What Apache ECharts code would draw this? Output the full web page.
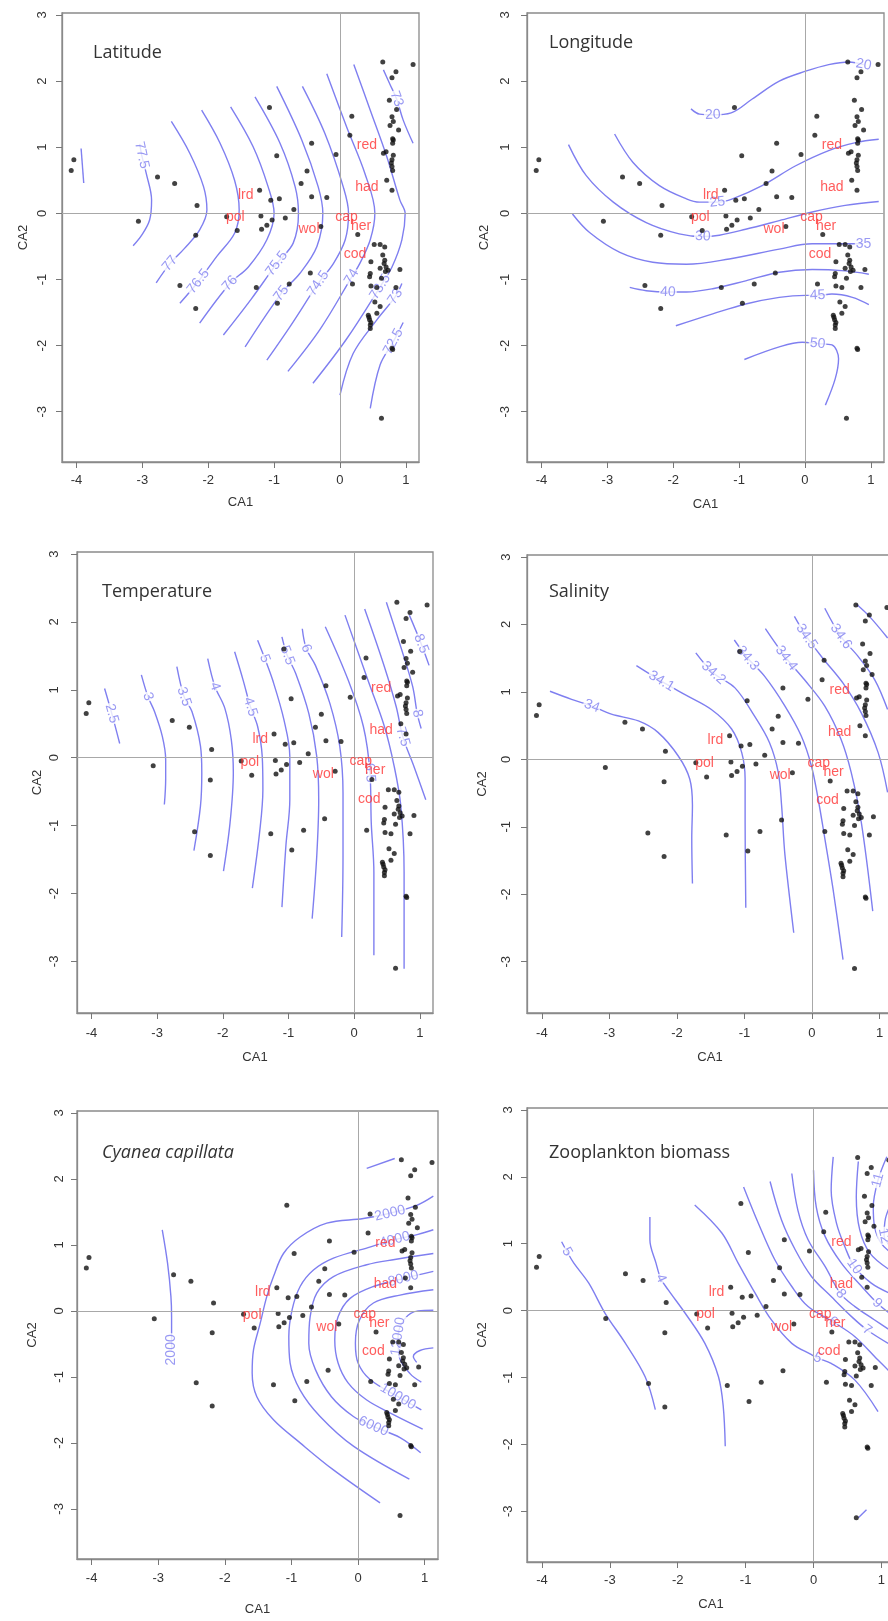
<!DOCTYPE html>
<html>
<head>
<meta charset="utf-8">
<script src="https://cdn.jsdelivr.net/npm/echarts@6/dist/echarts.min.js"></script>
<style>
  html, body { margin: 0; padding: 0; background: #fff; }
  #chart { width: 888px; height: 1621px; }
</style>
</head>
<body>
<div id="chart"></div>
<script>
// --- data: site scores (same in every panel) ---
var sites = [
  [-4.08,0.65],[-4.04,0.81],[-3.06,-0.12],[-2.77,0.55],[-2.51,0.45],[-2.17,0.12],[-2.19,-0.33],[-2.43,-1.09],
  [-2.19,-1.44],[-1.72,-0.05],[-1.56,-0.26],[-1.22,0.35],[-1.20,-0.04],[-1.19,-0.24],[-1.11,-0.18],[-1.05,0.20],
  [-1.03,-0.10],[-0.92,0.22],[-0.83,-0.07],[-1.07,1.60],[-0.96,0.87],[-0.70,0.06],[-1.27,-1.12],[-0.95,-1.36],
  [-0.77,-1.07],[-0.59,0.45],[-0.50,0.64],[-0.43,1.06],[-0.43,0.25],[-0.45,-0.90],[-0.29,-0.20],[-0.20,0.24],
  [-0.06,0.89],[0.15,1.18],[0.18,1.47],[0.27,-0.32],[0.19,-1.07],[0.65,2.29],[1.11,2.25],[0.79,2.05],
  [0.85,2.14],[0.75,1.71],[0.86,1.57],[0.79,1.46],[0.76,1.33],[0.81,1.39],[0.89,1.26],[0.81,1.11],
  [0.80,1.06],[0.80,1.13],[0.66,0.91],[0.70,0.93],[0.81,0.88],[0.79,0.81],[0.78,0.76],[0.79,0.71],
  [0.80,0.65],[0.71,0.50],[0.79,0.35],[0.52,-0.47],[0.61,-0.47],[0.68,-0.51],[0.47,-0.73],[0.65,-0.63],
  [0.68,-0.71],[0.70,-0.81],[0.73,-0.86],[0.67,-0.76],[0.69,-0.88],[0.61,-0.83],[0.46,-0.91],[0.45,-0.96],
  [0.91,-0.85],[0.63,-0.98],[0.47,-1.10],[0.56,-1.12],[0.85,-1.12],[0.53,-1.34],[0.61,-1.41],[0.56,-1.51],
  [0.43,-1.54],[0.44,-1.57],[0.45,-1.61],[0.47,-1.65],[0.46,-1.69],[0.46,-1.74],[0.79,-2.04],[0.80,-2.06],
  [0.63,-3.10]
];

// --- data: species scores ---
var speciesNames = ['lrd', 'pol', 'wol', 'cap', 'her', 'red', 'had', 'cod'];
var speciesX = [-1.43, -1.59, -0.47, 0.10, 0.32, 0.41, 0.41, 0.23];
var speciesY = [0.28, -0.06, -0.24, -0.05, -0.19, 1.03, 0.40, -0.61];

var xTicks = [-4, -3, -2, -1, 0, 1];
var yTicks = [-3, -2, -1, 0, 1, 2, 3];
var panelTitles = ['Latitude', 'Longitude', 'Temperature', 'Salinity', 'Cyanea capillata', 'Zooplankton biomass'];

// --- contours: Latitude ---
var latLevels = ['78', '77.5', '77', '76.5', '76', '75.5', '75', '74.5', '74', '73.5', '73', '72.5', '73'];
var latLabelAt = [[], [1], [6], [6], [6], [5], [6], [6], [6], [7], [1], [1], [2]];
var latLines = [
  [[-3.93,0.98],[-3.89,0.46]],
  [[-3.04,1.05],[-3.01,0.88],[-2.94,0.60],[-2.86,0.20],[-2.89,-0.10],[-3.01,-0.33],[-3.14,-0.49]],
  [[-2.56,1.39],[-2.28,0.91],[-2.07,0.40],[-2.02,0.05],[-2.13,-0.25],[-2.36,-0.53],[-2.58,-0.76],[-2.79,-1.05]],
  [[-2.10,1.56],[-1.82,1.06],[-1.60,0.50],[-1.53,0.05],[-1.60,-0.30],[-1.87,-0.65],[-2.15,-1.03],[-2.43,-1.36]],
  [[-1.66,1.61],[-1.32,1.01],[-1.09,0.40],[-1.00,0.00],[-1.11,-0.40],[-1.39,-0.81],[-1.67,-1.06],[-2.13,-1.66]],
  [[-1.29,1.76],[-0.91,1.06],[-0.68,0.40],[-0.63,0.00],[-0.71,-0.45],[-0.96,-0.76],[-1.35,-1.30],[-1.77,-1.84]],
  [[-0.96,1.92],[-0.58,1.11],[-0.33,0.40],[-0.26,0.00],[-0.35,-0.50],[-0.61,-0.91],[-0.89,-1.21],[-1.44,-2.02]],
  [[-0.57,1.92],[-0.23,1.21],[0.05,0.40],[0.13,0.00],[0.08,-0.40],[-0.10,-0.76],[-0.33,-1.06],[-0.75,-1.70],[-1.11,-2.22]],
  [[-0.20,2.11],[0.10,1.31],[0.38,0.60],[0.53,0.00],[0.46,-0.40],[0.30,-0.76],[0.18,-0.96],[-0.30,-1.75],[-0.79,-2.39]],
  [[0.21,2.25],[0.46,1.56],[0.71,0.86],[0.91,0.20],[0.99,0.00],[0.94,-0.40],[0.79,-0.81],[0.61,-1.11],[0.10,-1.90],[-0.41,-2.57]],
  [[0.94,-1.06],[0.84,-1.26],[0.56,-1.61],[0.20,-2.12],[0.00,-2.75]],
  [[0.96,-1.65],[0.81,-1.94],[0.61,-2.29],[0.46,-2.95]],
  [[0.66,2.17],[0.76,1.95],[0.86,1.73],[0.96,1.41],[1.11,1.06]]
];

// --- contours: Longitude ---
var lonLevels = ['20', '25', '30', '35', '40', '45', '50'];
var lonLabelAt = [[2, 9], [5], [5], [9], [2], [5], [3]];
var lonLines = [
  [[-1.73,1.58],[-1.60,1.50],[-1.40,1.49],[-1.12,1.52],[-0.80,1.73],[-0.39,2.00],[0.01,2.15],[0.36,2.25],[0.67,2.29],[0.89,2.25]],
  [[-2.89,1.20],[-2.61,0.77],[-2.21,0.42],[-1.80,0.22],[-1.60,0.17],[-1.33,0.17],[-1.10,0.22],[-0.65,0.42],[-0.14,0.72],[0.36,0.95],[0.77,1.07],[1.12,1.12]],
  [[-3.59,1.04],[-3.32,0.57],[-2.91,0.17],[-2.41,-0.14],[-1.91,-0.31],[-1.55,-0.35],[-1.30,-0.33],[-0.90,-0.24],[-0.39,-0.11],[0.11,0.02],[0.61,0.12],[1.12,0.18]],
  [[-3.53,-0.01],[-3.27,-0.29],[-2.81,-0.59],[-2.31,-0.74],[-1.80,-0.77],[-1.15,-0.69],[-0.39,-0.54],[0.11,-0.46],[0.61,-0.46],[0.89,-0.46]],
  [[-2.66,-1.12],[-2.41,-1.17],[-2.08,-1.19],[-1.80,-1.19],[-1.40,-1.14],[-0.90,-1.02],[-0.39,-0.89],[0.11,-0.85],[0.61,-0.87],[0.97,-0.92]],
  [[-1.96,-1.70],[-1.40,-1.52],[-0.90,-1.37],[-0.39,-1.27],[0.01,-1.24],[0.19,-1.24],[0.41,-1.22],[0.72,-1.27],[0.97,-1.38]],
  [[-0.92,-2.21],[-0.39,-2.02],[-0.04,-1.95],[0.19,-1.97],[0.41,-1.99],[0.51,-2.20],[0.46,-2.50],[0.31,-2.90]]
];

// --- contours: Temperature ---
var tempLevels = ['2.5', '3', '3.5', '4', '4.5', '5', '5.5', '6', '6.5', '7', '7.5', '8', '8.5'];
var tempLabelAt = [[1], [1], [1], [1], [2], [1], [1], [1], [3], [], [3], [3], [1]];
var tempLines = [
  [[-3.80,1.02],[-3.69,0.65],[-3.57,0.21]],
  [[-3.24,1.22],[-3.14,0.90],[-3.04,0.68],[-2.92,0.31],[-2.87,-0.03],[-2.87,-0.32],[-2.89,-0.69]],
  [[-2.70,1.34],[-2.59,0.90],[-2.47,0.68],[-2.34,0.17],[-2.32,-0.22],[-2.34,-0.71],[-2.44,-1.37]],
  [[-2.23,1.46],[-2.12,1.05],[-1.97,0.73],[-1.87,0.26],[-1.84,-0.22],[-1.89,-0.96],[-1.99,-1.67]],
  [[-1.82,1.56],[-1.69,1.14],[-1.58,0.75],[-1.47,0.46],[-1.40,0.02],[-1.39,-0.47],[-1.44,-1.10],[-1.55,-1.92]],
  [[-1.47,1.73],[-1.36,1.46],[-1.24,1.14],[-1.07,0.56],[-0.98,0.02],[-0.98,-0.62],[-1.04,-1.30],[-1.10,-2.20]],
  [[-1.10,1.78],[-1.02,1.51],[-0.89,1.24],[-0.69,0.65],[-0.57,0.02],[-0.54,-0.62],[-0.57,-1.45],[-0.64,-2.37]],
  [[-0.79,1.90],[-0.73,1.61],[-0.59,1.36],[-0.37,0.80],[-0.22,0.17],[-0.17,-0.52],[-0.17,-1.45],[-0.19,-2.64]],
  [[-0.44,1.93],[-0.09,1.14],[0.14,0.46],[0.24,-0.22],[0.26,-0.96],[0.30,-1.69],[0.30,-2.91]],
  [[-0.14,2.10],[0.21,1.14],[0.46,0.46],[0.61,-0.13],[0.71,-0.71],[0.76,-1.69],[0.76,-3.11]],
  [[0.16,2.19],[0.46,1.34],[0.64,0.75],[0.74,0.31],[0.91,-0.13],[1.09,-0.62]],
  [[0.49,2.29],[0.71,1.63],[0.89,1.05],[0.96,0.65],[1.02,0.43]],
  [[0.84,2.10],[1.02,1.68],[1.14,1.36]]
];

// --- contours: Salinity ---
var salLevels = ['34', '34.1', '34.2', '34.3', '34.4', '34.5', '34.6', '34.7'];
var salLabelAt = [[2], [1], [1], [1], [1], [1], [1], []];
var salLines = [
  [[-3.88,1.01],[-3.56,0.89],[-3.26,0.79],[-2.97,0.67],[-2.57,0.57],[-2.28,0.40],[-1.98,0.05],[-1.81,-0.29],[-1.77,-0.68],[-1.78,-1.17],[-1.77,-1.84]],
  [[-2.60,1.39],[-2.23,1.16],[-1.88,0.96],[-1.49,0.74],[-1.19,0.45],[-1.04,0.10],[-0.99,-0.29],[-0.99,-0.93],[-0.98,-2.20]],
  [[-1.72,1.58],[-1.46,1.28],[-1.14,1.06],[-0.85,0.64],[-0.63,0.25],[-0.50,-0.19],[-0.45,-0.68],[-0.40,-1.42],[-0.27,-2.57]],
  [[-1.15,1.77],[-0.95,1.50],[-0.70,1.23],[-0.40,0.79],[-0.16,0.35],[-0.01,-0.09],[0.09,-0.58],[0.19,-1.17],[0.31,-1.91],[0.46,-2.97]],
  [[-0.69,1.94],[-0.38,1.50],[-0.11,1.18],[0.19,0.79],[0.43,0.30],[0.58,-0.19],[0.73,-0.93],[0.90,-2.25]],
  [[-0.26,2.12],[-0.08,1.82],[0.16,1.50],[0.46,1.13],[0.73,0.69],[0.98,0.10],[1.12,-0.49]],
  [[0.19,2.24],[0.43,1.82],[0.68,1.53],[0.93,1.18],[1.12,0.74]],
  [[0.66,2.30],[0.85,2.12],[1.12,1.80]]
];

// --- contours: Cyanea capillata ---
var cyaLevels = ['2000', '2000', '4000', '6000', '8000', '10000', '12000', '14000', '2000'];
var cyaLabelAt = [[4], [2], [2], [10], [1], [7], [3], [], []];
var cyaLines = [
  [[-2.94,1.23],[-2.86,0.72],[-2.81,0.22],[-2.80,-0.09],[-2.80,-0.59]],
  [[1.13,1.74],[0.88,1.60],[0.48,1.48],[0.08,1.40],[-0.47,1.33],[-0.87,1.12],[-1.12,0.87],[-1.27,0.52],[-1.37,0.22],[-1.47,-0.19],[-1.57,-0.59],[-1.59,-0.94],[-1.52,-1.30],[-1.27,-1.65],[-0.87,-2.00],[-0.37,-2.41],[0.33,-2.91]],
  [[1.13,1.23],[0.90,1.16],[0.55,1.08],[0.15,0.96],[-0.37,0.80],[-0.67,0.62],[-0.87,0.37],[-0.99,0.02],[-1.04,-0.39],[-1.02,-0.79],[-0.87,-1.20],[-0.57,-1.60],[-0.07,-2.05],[0.77,-2.55]],
  [[1.13,0.87],[0.55,0.78],[0.13,0.70],[-0.37,0.52],[-0.62,0.27],[-0.72,-0.09],[-0.74,-0.49],[-0.64,-0.89],[-0.40,-1.30],[-0.07,-1.60],[0.23,-1.75],[0.63,-1.92],[0.94,-2.15]],
  [[1.13,0.60],[0.68,0.49],[0.23,0.37],[-0.12,0.19],[-0.30,-0.09],[-0.35,-0.44],[-0.30,-0.79],[-0.15,-1.09],[0.13,-1.35],[0.53,-1.57],[0.97,-1.79]],
  [[1.13,0.32],[0.63,0.24],[0.23,0.12],[0.02,-0.14],[-0.04,-0.49],[0.00,-0.79],[0.18,-1.04],[0.60,-1.30],[0.95,-1.50]],
  [[1.13,0.01],[0.90,0.00],[0.70,-0.12],[0.60,-0.39],[0.62,-0.70],[0.78,-0.95],[0.95,-1.08]],
  [[1.13,-0.56],[0.93,-0.60],[0.83,-0.69],[0.88,-0.78]],
  [[0.13,2.16],[0.55,2.31]]
];

// --- contours: Zooplankton biomass ---
var zooLevels = ['5', '4', '5', '6', '7', '8', '9', '10', '11', '11', '12', '4'];
var zooLabelAt = [[1], [3], [7], [5], [6], [4], [5], [4], [], [1], [2], []];
var zooLines = [
  [[-3.71,1.03],[-3.63,0.88],[-3.53,0.71],[-3.31,0.41],[-3.07,-0.04],[-2.77,-0.49],[-2.48,-0.99],[-2.33,-1.48]],
  [[-2.41,1.40],[-2.41,1.06],[-2.32,0.71],[-2.25,0.48],[-2.14,0.31],[-1.89,-0.04],[-1.60,-0.49],[-1.40,-0.99],[-1.33,-1.43],[-1.30,-2.03]],
  [[-1.75,1.58],[-1.35,1.16],[-1.11,0.71],[-0.86,0.26],[-0.62,-0.14],[-0.32,-0.49],[-0.03,-0.66],[0.06,-0.71],[0.26,-0.79],[0.61,-1.04],[0.95,-1.51]],
  [[-1.03,1.85],[-0.81,1.30],[-0.57,0.76],[-0.32,0.36],[-0.08,0.06],[0.29,-0.17],[0.61,-0.39],[0.95,-0.74],[1.15,-0.94]],
  [[-0.64,1.93],[-0.47,1.35],[-0.27,0.91],[-0.03,0.51],[0.26,0.21],[0.56,-0.09],[0.79,-0.29],[1.10,-0.49]],
  [[-0.32,2.05],[-0.23,1.50],[-0.08,1.06],[0.17,0.66],[0.40,0.25],[0.61,0.06],[0.90,-0.14],[1.12,-0.29]],
  [[0.00,2.10],[0.04,1.55],[0.17,1.11],[0.41,0.71],[0.71,0.36],[0.94,0.11],[1.12,-0.04]],
  [[0.29,2.30],[0.26,1.80],[0.34,1.30],[0.46,0.96],[0.60,0.66],[0.85,0.41],[1.12,0.26]],
  [[0.66,2.23],[0.63,1.70],[0.68,1.21],[0.83,0.86],[1.12,0.61]],
  [[1.08,2.30],[0.95,1.95],[0.88,1.55],[0.90,1.25],[1.00,1.00],[1.15,0.86]],
  [[1.15,1.62],[1.06,1.38],[1.04,1.12],[1.15,0.95]],
  [[0.66,-3.10],[0.78,-2.98]]
];

(function() {
  var sans = '"Liberation Sans", Arial, sans-serif';
  var titleFont = '"Open Sans", "Noto Sans", sans-serif';
  var contourColor = '#7f7ff0';
  var boxColor = '#8a8a8a';
  var ink = '#333';

  var xMin = -4.22, xMax = 1.2, yMin = -3.76, yMax = 3.03;

  // pixel layout of the six plot boxes
  var panels = [
    { left: 62,  top: 13,   width: 357, height: 449, tx: 93,  ty: 53,   xName: 41, yName: 39, xLab: 18, yLab: 19 },
    { left: 527, top: 13,   width: 357, height: 449, tx: 549, ty: 43,   xName: 43, yName: 43, xLab: 18, yLab: 21 },
    { left: 77,  top: 552,  width: 356, height: 461, tx: 102, ty: 592,  xName: 45, yName: 40, xLab: 20, yLab: 22 },
    { left: 527, top: 555,  width: 366, height: 458, tx: 549, ty: 592,  xName: 45, yName: 45, xLab: 20, yLab: 20 },
    { left: 77,  top: 1111, width: 361, height: 448, tx: 102, ty: 1153, xName: 51, yName: 45, xLab: 19, yLab: 17 },
    { left: 527, top: 1108, width: 368, height: 454, tx: 549, ty: 1153, xName: 43, yName: 45, xLab: 18, yLab: 18 }
  ];

  var contourSets = [
    { lines: latLines,  levels: latLevels,  labelAt: latLabelAt },
    { lines: lonLines,  levels: lonLevels,  labelAt: lonLabelAt },
    { lines: tempLines, levels: tempLevels, labelAt: tempLabelAt },
    { lines: salLines,  levels: salLevels,  labelAt: salLabelAt },
    { lines: cyaLines,  levels: cyaLevels,  labelAt: cyaLabelAt },
    { lines: zooLines,  levels: zooLevels,  labelAt: zooLabelAt }
  ];

  // text angle along the contour at vertex i, readable side up
  function labelAngle(line, i, ux, uy) {
    var a = line[Math.max(i - 1, 0)];
    var b = line[Math.min(i + 1, line.length - 1)];
    var ang = Math.atan2((b[1] - a[1]) * uy, (b[0] - a[0]) * ux) * 180 / Math.PI;
    if (ang > 90) ang -= 180;
    if (ang <= -90) ang += 180;
    return ang;
  }

  var speciesData = speciesNames.map(function(n, k) {
    return { name: n, value: [speciesX[k], speciesY[k]] };
  });

  var grids = [], xAxes = [], yAxes = [], titles = [], series = [];

  panels.forEach(function(p, i) {
    var ux = p.width / (xMax - xMin), uy = p.height / (yMax - yMin);

    grids.push({
      left: p.left, top: p.top, width: p.width, height: p.height,
      show: true, borderColor: boxColor, borderWidth: 1.3,
      containLabel: false, outerBoundsMode: 'none'
    });

    xAxes.push({
      gridIndex: i, type: 'value', min: xMin, max: xMax,
      axisLine: { show: true, onZero: false, lineStyle: { color: boxColor, width: 1.3 } },
      axisTick: { show: true, length: 6, customValues: xTicks, lineStyle: { color: '#777' } },
      axisLabel: { customValues: xTicks, margin: p.xLab - 6, color: ink, fontSize: 13, fontFamily: sans },
      splitLine: { show: false },
      name: 'CA1', nameLocation: 'middle', nameGap: p.xName - 7,
      nameTextStyle: { color: ink, fontSize: 13, fontFamily: sans }
    });

    yAxes.push({
      gridIndex: i, type: 'value', min: yMin, max: yMax,
      axisLine: { show: true, onZero: false, lineStyle: { color: boxColor, width: 1.3 } },
      axisTick: { show: true, length: 6, customValues: yTicks, lineStyle: { color: '#777' } },
      axisLabel: { customValues: yTicks, rotate: 90, margin: p.yLab - 6, color: ink, fontSize: 13, fontFamily: sans },
      splitLine: { show: false },
      name: 'CA2', nameLocation: 'middle', nameGap: p.yName - 7,
      nameTextStyle: { color: ink, fontSize: 13, fontFamily: sans }
    });

    titles.push({
      text: panelTitles[i], left: p.tx, top: p.ty - 10, padding: 0,
      textStyle: {
        fontFamily: titleFont, fontSize: 18, lineHeight: 20, fontWeight: 'normal', color: '#333',
        fontStyle: i === 4 ? 'italic' : 'normal'
      }
    });

    var set = contourSets[i];

    // zero reference lines
    series.push({
      type: 'line', xAxisIndex: i, yAxisIndex: i, data: [], z: 1, silent: true,
      markLine: {
        silent: true, symbol: ['none', 'none'], animation: false,
        label: { show: false },
        lineStyle: { color: '#a8a8a8', width: 1, type: 'solid' },
        data: [{ xAxis: 0 }, { yAxis: 0 }]
      }
    });

    set.lines.forEach(function(line) {
      series.push({
        type: 'line', xAxisIndex: i, yAxisIndex: i, data: line,
        smooth: 0.35, showSymbol: false, symbol: 'none', silent: true, z: 2,
        lineStyle: { color: contourColor, width: 1.4 }
      });
    });

    var labs = [];
    set.lines.forEach(function(line, k) {
      set.labelAt[k].forEach(function(idx) {
        labs.push({ name: set.levels[k], value: line[idx], label: { rotate: labelAngle(line, idx, ux, uy) } });
      });
    });
    series.push({
      type: 'scatter', xAxisIndex: i, yAxisIndex: i, data: labs, symbolSize: 1, silent: true, z: 3,
      itemStyle: { color: 'rgba(0,0,0,0)' },
      label: {
        show: true, position: 'inside', formatter: '{b}', color: contourColor,
        fontSize: 14, fontFamily: sans, backgroundColor: '#fff', padding: [0, 1]
      }
    });

    series.push({
      type: 'scatter', xAxisIndex: i, yAxisIndex: i, data: sites, symbolSize: 5, silent: true, z: 4,
      itemStyle: { color: '#111' }
    });

    series.push({
      type: 'scatter', xAxisIndex: i, yAxisIndex: i, data: speciesData, symbolSize: 1, silent: true, z: 5,
      itemStyle: { color: 'rgba(0,0,0,0)' },
      label: { show: true, position: 'inside', formatter: '{b}', color: '#ff3333', fontSize: 14, fontFamily: sans }
    });
  });

  var chart = echarts.init(document.getElementById('chart'), null, { renderer: 'canvas' });
  chart.setOption({
    animation: false,
    backgroundColor: '#fff',
    title: titles,
    grid: grids,
    xAxis: xAxes,
    yAxis: yAxes,
    series: series
  });
  window.addEventListener('resize', function() { chart.resize(); });
})();
</script>
</body>
</html>
